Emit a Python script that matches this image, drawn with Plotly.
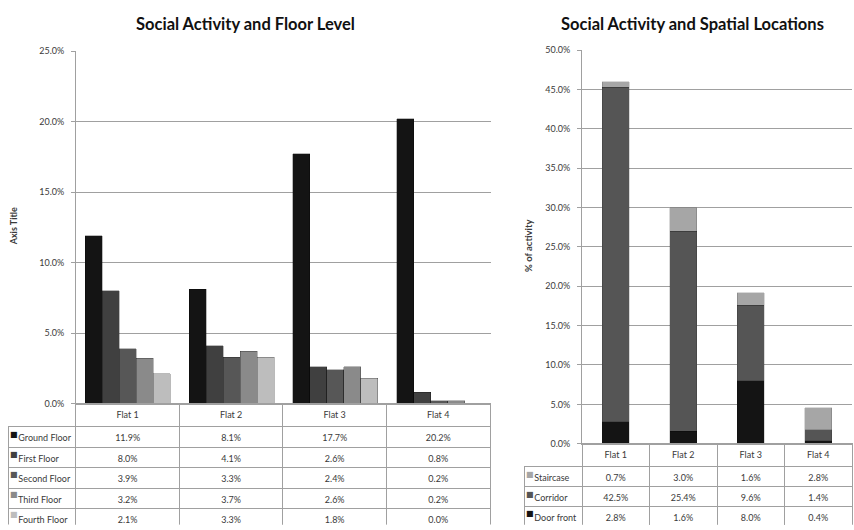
import plotly.graph_objects as go

# ---- data -------------------------------------------------------------
flats = ["Flat 1", "Flat 2", "Flat 3", "Flat 4"]

floor_names = ["Ground Floor", "First Floor", "Second Floor", "Third Floor", "Fourth Floor"]
ground_floor = [11.9, 8.1, 17.7, 20.2]
first_floor = [8.0, 4.1, 2.6, 0.8]
second_floor = [3.9, 3.3, 2.4, 0.2]
third_floor = [3.2, 3.7, 2.6, 0.2]
fourth_floor = [2.1, 3.3, 1.8, 0.0]
floor_colors = ["#141414", "#404040", "#575757", "#8a8a8a", "#bdbdbd"]

location_names = ["Staircase", "Corridor", "Door front"]
staircase = [0.7, 3.0, 1.6, 2.8]
corridor = [42.5, 25.4, 9.6, 1.4]
door_front = [2.8, 1.6, 8.0, 0.4]
location_colors = ["#a6a6a6", "#555555", "#141414"]

left_ticks = [0, 5, 10, 15, 20, 25]
right_ticks = [0, 5, 10, 15, 20, 25, 30, 35, 40, 45, 50]

# ---- layout helpers ---------------------------------------------------
W, H = 854, 530
FONT = "Lato, Carlito, 'Liberation Sans', sans-serif"
GRID = "#a0a0a0"
TEXT = "#3a3a3a"


def px_x(p):
    return p / W


def px_y(p):
    return 1 - p / H


def fmt(v):
    return f"{v:.1f}%"


fig = go.Figure()

# left chart: one offset group per floor level -> clustered bars
floor_series = [ground_floor, first_floor, second_floor, third_floor, fourth_floor]
for name, vals, col in zip(floor_names, floor_series, floor_colors):
    fig.add_trace(go.Bar(
        x=flats, y=vals, name=name,
        marker=dict(color=col, line=dict(color="rgba(0,0,0,0.45)", width=0.6)),
        xaxis="x", yaxis="y", showlegend=False, offsetgroup=name,
    ))

# right chart: a single offset group -> stacked bars (bottom to top)
location_series = {"Staircase": staircase, "Corridor": corridor, "Door front": door_front}
for name in ["Door front", "Corridor", "Staircase"]:
    col = location_colors[location_names.index(name)]
    fig.add_trace(go.Bar(
        x=flats, y=location_series[name], name=name, width=0.4, offsetgroup="locations",
        marker=dict(color=col, line=dict(color="rgba(0,0,0,0.25)", width=0.6)),
        xaxis="x2", yaxis="y2", showlegend=False,
    ))

# ---- data tables ------------------------------------------------------
LEFT_TABLE = dict(x0=8, x1=491, top=406, header_h=23, row_h=20.5, label_w=68)
RIGHT_TABLE = dict(x0=524, x1=852, top=447, header_h=23, row_h=20, label_w=58)


def add_data_table(spec, names, colors, series):
    value_w = (spec["x1"] - spec["x0"] - spec["label_w"]) / len(flats)
    cols = [["\u00a0" + n.replace(" ", "\u00a0") for n in names]]
    for j in range(len(flats)):
        cols.append([fmt(s[j]) for s in series])
    fig.add_trace(go.Table(
        domain=dict(x=[px_x(spec["x0"]), px_x(spec["x1"])], y=[0, px_y(spec["top"])]),
        columnwidth=[spec["label_w"]] + [value_w] * len(flats),
        header=dict(values=[""] + flats, height=spec["header_h"], fill_color="rgba(0,0,0,0)",
                    line=dict(color=["rgba(0,0,0,0)"] + [GRID] * len(flats), width=1),
                    font=dict(family=FONT, size=9, color=TEXT), align="center"),
        cells=dict(values=cols, height=spec["row_h"], fill_color="white",
                   line=dict(color=GRID, width=1),
                   font=dict(family=FONT, size=9, color=TEXT),
                   align=["left"] + ["center"] * len(flats)),
    ))
    # legend keys in front of the row labels
    for i, c in enumerate(colors):
        yc = spec["top"] + spec["header_h"] + spec["row_h"] * (i + 0.5) - 1.5
        fig.add_annotation(text="■", x=px_x(spec["x0"] + 6), y=px_y(yc),
                           xref="paper", yref="paper", xanchor="center", yanchor="middle",
                           showarrow=False, font=dict(family="DejaVu Sans", size=8, color=c))


add_data_table(LEFT_TABLE, floor_names, floor_colors, floor_series)
add_data_table(RIGHT_TABLE, location_names, location_colors, [staircase, corridor, door_front])

axis_common = dict(showgrid=False, showticklabels=False, ticks="", showline=True,
                   linecolor=GRID, linewidth=1, fixedrange=True)
yaxis_common = dict(showgrid=True, gridcolor=GRID, gridwidth=1, zeroline=False,
                    showline=True, linecolor=GRID, linewidth=1,
                    ticks="outside", ticklen=4, tickcolor=GRID, ticklabelstandoff=5,
                    tickfont=dict(family=FONT, size=9, color=TEXT), fixedrange=True)

fig.update_layout(
    width=W, height=H,
    margin=dict(l=0, r=0, t=0, b=0),
    paper_bgcolor="white", plot_bgcolor="white",
    barmode="stack",
    bargap=0.18, bargroupgap=0,
    font=dict(family=FONT),
    xaxis=dict(domain=[px_x(76), px_x(491)], anchor="y", **axis_common),
    yaxis=dict(domain=[px_y(406), px_y(46)], anchor="x", range=[0, 25],
               tickvals=left_ticks, ticktext=[fmt(v) for v in left_ticks], **yaxis_common),
    xaxis2=dict(domain=[px_x(582), px_x(852)], anchor="y2", **axis_common),
    yaxis2=dict(domain=[px_y(447), px_y(45)], anchor="x2", range=[0, 50],
                tickvals=right_ticks, ticktext=[fmt(v) for v in right_ticks], **yaxis_common),
)

fig.add_annotation(text="<b>Social Activity and Floor Level</b>", x=px_x(245), y=px_y(18),
                   xref="paper", yref="paper", xanchor="center", yanchor="middle", showarrow=False,
                   font=dict(family=FONT, size=16.5, color="#111111"))
fig.add_annotation(text="<b>Social Activity and Spatial Locations</b>", x=px_x(692), y=px_y(18),
                   xref="paper", yref="paper", xanchor="center", yanchor="middle", showarrow=False,
                   font=dict(family=FONT, size=16.5, color="#111111"))
fig.add_annotation(text="<b>Axis Title</b>", x=px_x(13), y=px_y(225), textangle=-90,
                   xref="paper", yref="paper", xanchor="center", yanchor="middle", showarrow=False,
                   font=dict(family=FONT, size=9, color=TEXT))
fig.add_annotation(text="<b>% of activity</b>", x=px_x(529), y=px_y(245), textangle=-90,
                   xref="paper", yref="paper", xanchor="center", yanchor="middle", showarrow=False,
                   font=dict(family=FONT, size=9.5, color=TEXT))

fig.write_html("out.html")
